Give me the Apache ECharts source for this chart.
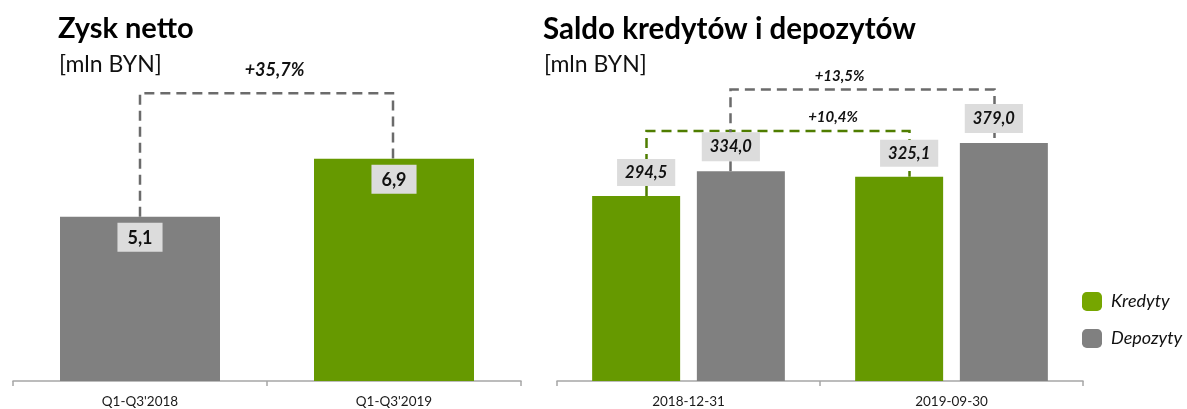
<!DOCTYPE html>
<html>
<head>
<meta charset="utf-8">
<script src="https://cdn.jsdelivr.net/npm/echarts@6/dist/echarts.min.js"></script>
<style>
  html, body { margin: 0; padding: 0; background: #fff; }
  #chart { width: 1187px; height: 409px; }
</style>
</head>
<body>
<div id="chart"></div>
<script>
// data
const profitCategories = ["Q1-Q3'2018", "Q1-Q3'2019"];
const profitValues = [5.1, 6.9];
const profitChange = ['+35,7%'];

const balanceCategories = ['2018-12-31', '2019-09-30'];
const loanValues = [294.5, 325.1];
const depositValues = [334.0, 379.0];
const balanceChange = ['+10,4%', '+13,5%'];

const FONT = 'Lato';
const GREEN = '#669900';
const GRAY = '#808080';
const BOX = '#dcdcdc';
const profitColors = [GRAY, GREEN];

const fmt = (v) => v.toFixed(1).replace('.', ',');

// bracket: [fromCat, fromValue, toCat, toValue, level]
const bracketRender = (opt) => (params, api) => {
  const a = api.coord([api.value(0), api.value(1)]);
  const b = api.coord([api.value(2), api.value(3)]);
  const top = api.coord([api.value(0), api.value(4)])[1];
  const x0 = a[0] + opt.dx0;
  const x1 = b[0] + opt.dx1;
  return {
    type: 'group',
    children: [
      {
        type: 'polyline',
        shape: { points: [[x0, a[1]], [x0, top], [x1, top], [x1, b[1]]] },
        style: { stroke: opt.color, lineWidth: 2.5, lineDash: [10, 6], fill: null }
      },
      {
        type: 'text',
        x: (x0 + x1) / 2 + opt.tx,
        y: top + opt.ty,
        style: {
          text: opt.text,
          font: `italic bold ${opt.fontSize}px ${FONT}`,
          fill: '#111',
          align: 'center',
          verticalAlign: 'middle'
        }
      }
    ]
  };
};

const catAxis = (gridIndex, data) => ({
  type: 'category',
  gridIndex,
  data,
  axisLine: { lineStyle: { color: '#a6a6a6', width: 1.5 } },
  axisTick: { show: true, length: 5, lineStyle: { color: '#a6a6a6', width: 1.5 } },
  axisLabel: { fontFamily: FONT, fontSize: 13.5, color: '#1a1a1a', margin: 14 }
});

const chart = echarts.init(document.getElementById('chart'));

chart.setOption({
  animation: false,
  textStyle: { fontFamily: FONT },
  title: [
    { text: 'Zysk netto', left: 53, top: 9, textStyle: { fontFamily: FONT, fontSize: 29, fontWeight: 'bold', color: '#000' } },
    { text: '[mln BYN]', left: 54, top: 48, textStyle: { fontFamily: FONT, fontSize: 23, fontWeight: 'normal', color: '#111' } },
    { text: 'Saldo kredytów i depozytów', left: 538, top: 9, textStyle: { fontFamily: FONT, fontSize: 29.5, fontWeight: 'bold', color: '#000' } },
    { text: '[mln BYN]', left: 539, top: 48, textStyle: { fontFamily: FONT, fontSize: 23, fontWeight: 'normal', color: '#111' } }
  ],
  legend: {
    orient: 'vertical',
    left: 1077,
    top: 287,
    itemWidth: 20,
    itemHeight: 19,
    itemGap: 18,
    icon: 'roundRect',
    textStyle: { fontFamily: FONT, fontStyle: 'italic', fontSize: 18, color: '#111', padding: [0, 0, 0, 4] },
    data: [
      { name: 'Kredyty', itemStyle: { color: '#76a600' } },
      { name: 'Depozyty', itemStyle: { color: GRAY } }
    ]
  },
  grid: [
    { left: 13, width: 508, top: 59, height: 322 },
    { left: 557, width: 526, top: 67, height: 316 }
  ],
  xAxis: [catAxis(0, profitCategories), catAxis(1, balanceCategories)],
  yAxis: [
    { type: 'value', gridIndex: 0, min: 0, max: 10, show: false },
    { type: 'value', gridIndex: 1, min: 0, max: 500, show: false }
  ],
  series: [
    {
      type: 'bar',
      xAxisIndex: 0,
      yAxisIndex: 0,
      barWidth: 160,
      z: 2,
      data: profitValues.map((v, i) => ({ value: v, itemStyle: { color: profitColors[i] } })),
      label: {
        show: true,
        position: 'insideTop',
        distance: 6,
        formatter: (p) => fmt(p.value),
        backgroundColor: BOX,
        padding: [6, 10, 5, 10],
        fontFamily: FONT,
        fontSize: 18,
        fontWeight: 'bold',
        color: '#111'
      }
    },
    {
      type: 'custom',
      xAxisIndex: 0,
      yAxisIndex: 0,
      z: 1,
      silent: true,
      encode: { x: [0, 2], y: [1, 3, 4] },
      data: [[0, profitValues[0], 1, profitValues[1], 8.94]],
      renderItem: bracketRender({ color: '#6b6b6b', dx0: 0, dx1: -1, tx: 8, ty: -23, fontSize: 18, text: profitChange[0] })
    },
    {
      name: 'Kredyty',
      type: 'bar',
      xAxisIndex: 1,
      yAxisIndex: 1,
      barWidth: 88,
      barGap: '19%',
      z: 2,
      itemStyle: { color: GREEN },
      data: loanValues,
      label: {
        show: true,
        position: 'top',
        distance: 10,
        offset: [10, 0],
        formatter: (p) => fmt(p.value),
        backgroundColor: BOX,
        padding: [5, 8, 5, 8],
        fontFamily: FONT,
        fontSize: 16.5,
        fontWeight: 'bold',
        fontStyle: 'italic',
        color: '#111'
      }
    },
    {
      name: 'Depozyty',
      type: 'bar',
      xAxisIndex: 1,
      yAxisIndex: 1,
      barWidth: 88,
      barGap: '19%',
      z: 2,
      itemStyle: { color: GRAY },
      data: depositValues,
      label: {
        show: true,
        position: 'top',
        distance: 10,
        offset: [-10, 0],
        formatter: (p) => fmt(p.value),
        backgroundColor: BOX,
        padding: [6, 8, 6, 8],
        fontFamily: FONT,
        fontSize: 16.5,
        fontWeight: 'bold',
        fontStyle: 'italic',
        color: '#111'
      }
    },
    {
      type: 'custom',
      xAxisIndex: 1,
      yAxisIndex: 1,
      z: 1,
      silent: true,
      encode: { x: [0, 2], y: [1, 3, 4] },
      data: [[0, loanValues[0], 1, loanValues[1], 398]],
      renderItem: bracketRender({ color: '#4f7d00', dx0: -42, dx1: -42, tx: 55, ty: -14, fontSize: 15, text: balanceChange[0] })
    },
    {
      type: 'custom',
      xAxisIndex: 1,
      yAxisIndex: 1,
      z: 1,
      silent: true,
      encode: { x: [0, 2], y: [1, 3, 4] },
      data: [[0, depositValues[0], 1, depositValues[1], 464]],
      renderItem: bracketRender({ color: '#6b6b6b', dx0: 42, dx1: 43, tx: -23, ty: -13, fontSize: 15, text: balanceChange[1] })
    }
  ]
});
</script>
</body>
</html>
